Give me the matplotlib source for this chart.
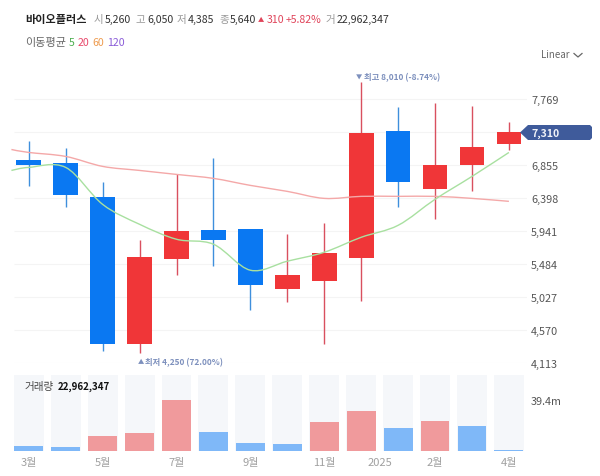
import matplotlib
matplotlib.use("Agg")
import matplotlib.pyplot as plt
import numpy as np
from matplotlib.patches import PathPatch, Polygon
from matplotlib.path import Path

plt.rcParams['font.family'] = ['Noto Sans CJK KR', 'DejaVu Sans']

# candles, monthly
open_price = [6849, 6877, 6407, 4376, 5550, 5951, 5965, 5136, 5246, 5564, 7333, 6518, 6849, 7140]
close_price = [6918, 6435, 4376, 5578, 5937, 5813, 5191, 5329, 5633, 7305, 6614, 6849, 7098, 7310]
high_price = [7181, 7091, 6614, 5813, 6725, 6946, 5965, 5896, 6048, 8010, 7665, 7720, 7679, 7457]
low_price = [6559, 6276, 4279, 4250, 5329, 5454, 4845, 4956, 4376, 4970, 6269, 6103, 6490, 7057]
# first blue candle has close under open in the source colours
is_blue = [True, True, True, False, False, True, True, False, False, False, True, False, False, False]

volume = [4.1, 3.4, 11.3, 13.9, 39.4, 14.7, 5.9, 5.2, 22.6, 30.7, 17.5, 23.4, 19.3, 0.8]
volume_blue = [True, True, False, False, False, True, True, True, False, False, True, False, True, True]
volume_max = 58.8

ma_x = [-0.47, 0, 1, 2, 3, 4, 5, 6, 7, 8, 9, 10, 11, 12, 13]
ma5 = [6780, 6822, 6822, 6310, 6034, 5827, 5758, 5398, 5523, 5647, 5854, 6020, 6380, 6697, 7029]
ma20 = [7070, 7029, 6974, 6836, 6780, 6725, 6670, 6573, 6490, 6393, 6421, 6421, 6421, 6393, 6352]

y_ticks = [7769, 6855, 6398, 5941, 5484, 5027, 4570, 4113]
grid_levels = [7769, 7312, 6855, 6398, 5941, 5484, 5027, 4570, 4113]
month_pos = [0, 2, 4, 6, 8, 9.5, 11, 13]
month_labels = ['3월', '5월', '7월', '9월', '11월', '2025', '2월', '4월']

RED = '#f03638'
BLUE = '#0a78f2'
W, H = 600, 477


def px_rect(x0, y0, x1, y1):
    return [x0 / W, 1 - y1 / H, (x1 - x0) / W, (y1 - y0) / H]


def smooth_line(ax, xs, ys, color):
    # catmull-rom through the read values, the site draws curved lines
    xs = np.array(xs, float)
    ys = np.array(ys, float)
    verts = [(xs[0], ys[0])]
    codes = [Path.MOVETO]
    for i in range(len(xs) - 1):
        a = max(i - 1, 0)
        b = min(i + 2, len(xs) - 1)
        verts.append((xs[i] + (xs[i + 1] - xs[a]) / 6, ys[i] + (ys[i + 1] - ys[a]) / 6))
        verts.append((xs[i + 1] - (xs[b] - xs[i]) / 6, ys[i + 1] - (ys[b] - ys[i]) / 6))
        verts.append((xs[i + 1], ys[i + 1]))
        codes += [Path.CURVE4] * 3
    ax.add_patch(PathPatch(Path(verts, codes), fill=False, edgecolor=color, lw=1.0, clip_on=False, zorder=4))


fig = plt.figure(figsize=(6, 4.77), dpi=100)

ax = fig.add_axes(px_rect(14, 70, 527, 364))
idx = np.arange(len(open_price))
colors = [BLUE if b else RED for b in is_blue]
wick_colors = ['#3f8fdc' if b else '#d9505f' for b in is_blue]
ax.hlines(grid_levels, -0.40, 13.49, color='#f4f4f4', lw=0.8, zorder=0)
ax.vlines(idx, low_price, high_price, color=wick_colors, lw=1.0, zorder=2)
bottoms = np.minimum(open_price, close_price)
heights = np.abs(np.array(open_price) - np.array(close_price))
ax.bar(idx, heights, bottom=bottoms, width=0.67, color=colors, zorder=3)
smooth_line(ax, ma_x, ma20, '#f4a8a8')
smooth_line(ax, ma_x, ma5, '#a8e0a0')
ax.set_xlim(-0.40, 13.49)
ax.set_ylim(4113, 8185)
ax.set_xticks([])
ax.set_yticks(y_ticks)
ax.set_yticklabels([f'{v:,}' for v in y_ticks], fontsize=7.8, color='#555555')
ax.yaxis.tick_right()
ax.tick_params(axis='y', length=0, pad=3)
for s in ax.spines.values():
    s.set_visible(False)
ax.patch.set_alpha(0)

NOTE = '#7d90bd'
ax.annotate('▼', xy=(9, 8010), xytext=(-3.5, 3.6), textcoords='offset points',
            fontsize=4.5, color=NOTE, va='center', ha='left', annotation_clip=False)
ax.annotate('최고 8,010 (-8.74%)', xy=(9, 8010), xytext=(2, 3.6), textcoords='offset points',
            fontsize=6, color=NOTE, fontweight='bold', va='center', ha='left', annotation_clip=False)
ax.annotate('▲', xy=(3, 4250), xytext=(-1, -6), textcoords='offset points',
            fontsize=4.5, color=NOTE, va='center', ha='left', annotation_clip=False)
ax.annotate('최저 4,250 (72.00%)', xy=(3, 4250), xytext=(4, -6), textcoords='offset points',
            fontsize=6, color=NOTE, fontweight='bold', va='center', ha='left', annotation_clip=False)

vol = fig.add_axes(px_rect(14, 376, 527, 452))
vol_colors = ['#7fb8f8' if b else '#f09a9c' for b in volume_blue]
vol.bar(idx, [volume_max] * len(idx), width=0.81, color='#f5f7fa', zorder=1)
vol.bar(idx, volume, width=0.78, color=vol_colors, zorder=2)
vol.set_xlim(-0.40, 13.49)
vol.set_ylim(0, volume_max)
vol.set_xticks(month_pos)
vol.set_xticklabels(month_labels, fontsize=8, color='#a0a0a0')
vol.tick_params(axis='x', length=0, pad=4.5)
vol.set_yticks([39.4])
vol.set_yticklabels(['39.4m'], fontsize=7.8, color='#555555')
vol.yaxis.tick_right()
vol.tick_params(axis='y', length=0, pad=3)
for s in vol.spines.values():
    s.set_visible(False)


def label(x, y, s, color='#333333', size=7.6, weight='normal'):
    fig.text(x / W, 1 - y / H, s, color=color, fontsize=size, fontweight=weight, ha='left', va='center')


GREY = '#999999'
DARK = '#333333'
UP = '#e0445a'
label(25, 20, '바이오플러스', '#222222', 8, 'bold')
for x, s, c in [(94, '시', GREY), (105, '5,260', DARK), (135, '고', GREY), (147, '6,050', DARK),
                (177, '저', GREY), (188, '4,385', DARK), (219, '종', GREY), (230, '5,640', DARK),
                (267, '310', UP), (286, '+5.82%', UP), (326, '거', GREY), (337, '22,962,347', DARK)]:
    label(x, 20, s, c)
label(258, 20, '▲', UP, 4.5)
label(25, 43, '이동평균', '#666666', 8)
for x, s, c in [(69, '5', '#4caf50'), (78, '20', '#e8476a'), (92, '60', '#ee9a4d'), (107, '120', '#8a5cd8')]:
    label(x, 43, s, c)
label(541, 55, 'Linear', '#666666', 7)
fig.add_artist(plt.Line2D([574 / W, 578 / W, 582 / W], [1 - 54.5 / H, 1 - 58 / H, 1 - 54.5 / H],
                          color='#666666', lw=0.9))
label(25, 387, '거래량', '#444444', 7.6)
label(58, 387, '22,962,347', '#111111', 7, 'bold')

# price tag for last value
tag = [(520, 133.5), (528, 126), (590, 126), (592, 128), (592, 139), (590, 141), (528, 141)]
fig.add_artist(Polygon([(x / W, 1 - y / H) for x, y in tag], closed=True, transform=fig.transFigure,
                       facecolor='#3f5b9b', edgecolor='none'))
label(531, 133.5, f'{close_price[-1]:,}', '#f0f2f8', 7.6, 'bold')

fig.savefig('out.png', dpi=100)
